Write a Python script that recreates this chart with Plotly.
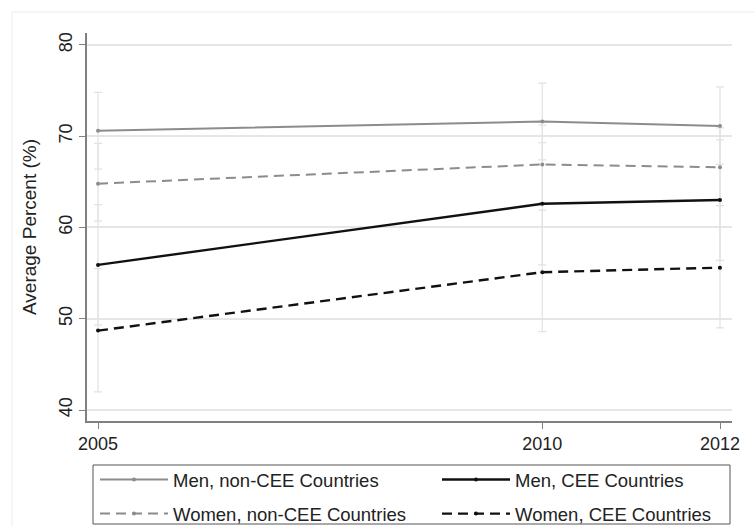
import plotly.graph_objects as go

years = [2005, 2010, 2012]

men_non = [70.6, 71.6, 71.1]
women_non = [64.8, 66.9, 66.6]
men_cee = [55.9, 62.6, 63.0]
women_cee = [48.7, 55.1, 55.6]

men_non_hi = [74.8, 75.8, 75.4]
men_non_lo = [66.4, 67.4, 66.9]
women_non_hi = [69.2, 71.2, 70.9]
women_non_lo = [60.7, 62.7, 62.4]
men_cee_hi = [62.5, 69.3, 69.6]
men_cee_lo = [49.3, 55.9, 56.4]
women_cee_hi = [55.5, 61.9, 62.4]
women_cee_lo = [42.0, 48.6, 49.0]

y_ticks = [40, 50, 60, 70, 80]
x_ticks = [2005, 2010, 2012]

GRAY = "#8c8c8c"
BLACK = "#111111"
CI = "#e2e2e2"
FONT = "Liberation Sans, Arial, sans-serif"

# plot area in pixels: x 87..732, y 33..421
L, R, T, B = 87, 22, 33, 106
PW, PH = 754 - L - R, 527 - T - B


def px(x):
    return (x - L) / PW


def py(y):
    return (527 - B - y) / PH


series = [
    ("Men, non-CEE Countries", men_non, men_non_lo, men_non_hi, GRAY, "solid", 2, "legend"),
    ("Women, non-CEE Countries", women_non, women_non_lo, women_non_hi, GRAY, "10px,6px", 2, "legend"),
    ("Men, CEE Countries", men_cee, men_cee_lo, men_cee_hi, BLACK, "solid", 2.4, "legend2"),
    ("Women, CEE Countries", women_cee, women_cee_lo, women_cee_hi, BLACK, "10px,6px", 2.4, "legend2"),
]

fig = go.Figure()

# confidence intervals (drawn first, behind lines)
for name, vals, lo, hi, col, dash, w, lg in series:
    fig.add_trace(go.Scatter(
        x=years, y=vals, mode="markers",
        marker=dict(size=1, color="rgba(0,0,0,0)"),
        error_y=dict(type="data", symmetric=False,
                     array=[h - v for h, v in zip(hi, vals)],
                     arrayminus=[v - l for v, l in zip(vals, lo)],
                     color=CI, thickness=1.2, width=4),
        showlegend=False, hoverinfo="skip",
    ))

for name, vals, lo, hi, col, dash, w, lg in series:
    fig.add_trace(go.Scatter(
        x=years, y=vals, mode="lines+markers", name=name,
        line=dict(color=col, width=w, dash=dash),
        marker=dict(size=4, color=col, symbol="circle"),
        legend=lg, legendgroup=name,
    ))

leg_common = dict(
    orientation="v", yanchor="top", xanchor="left",
    borderwidth=0, bgcolor="rgba(0,0,0,0)",
    font=dict(family=FONT, size=18.5, color="#222222"),
    itemwidth=68, tracegroupgap=7, traceorder="grouped",
)

fig.update_layout(
    width=754, height=527,
    margin=dict(l=L, r=R, t=T, b=B, autoexpand=False),
    paper_bgcolor="white", plot_bgcolor="white",
    font=dict(family=FONT, size=17, color="#222222"),
    showlegend=True,
    legend=dict(x=px(95), y=py(461), **leg_common),
    legend2=dict(x=px(437), y=py(461), **leg_common),
    xaxis=dict(
        range=[2004.876, 2012.135], tickmode="array", tickvals=x_ticks,
        ticktext=[str(t) for t in x_ticks],
        showgrid=False, zeroline=False,
        showline=True, linecolor="#808080", linewidth=1.5,
        ticks="outside", ticklen=6, tickcolor="#808080", tickwidth=1,
        tickfont=dict(size=18),
    ),
    yaxis=dict(
        range=[38.8, 81.3], tickmode="array", tickvals=y_ticks,
        ticktext=[str(t) for t in y_ticks],
        showgrid=True, gridcolor="#e6e6e6", gridwidth=1.5, zeroline=False,
        showline=True, linecolor="#808080", linewidth=1.5,
        ticks="outside", ticklen=6, tickcolor="#808080", tickwidth=1,
        tickangle=-90, tickfont=dict(size=18),
        title=dict(text="Average Percent (%)", font=dict(size=19), standoff=14),
    ),
    shapes=[
        dict(type="rect", xref="paper", yref="paper",
             x0=px(12), x1=px(800), y0=py(600), y1=py(12),
             line=dict(color="#ececec", width=1), layer="below"),
        dict(type="rect", xref="paper", yref="paper",
             x0=px(93), x1=px(730), y0=py(524), y1=py(465),
             line=dict(color="#555555", width=1), layer="above"),
    ],
)

fig.write_html("out.html")
